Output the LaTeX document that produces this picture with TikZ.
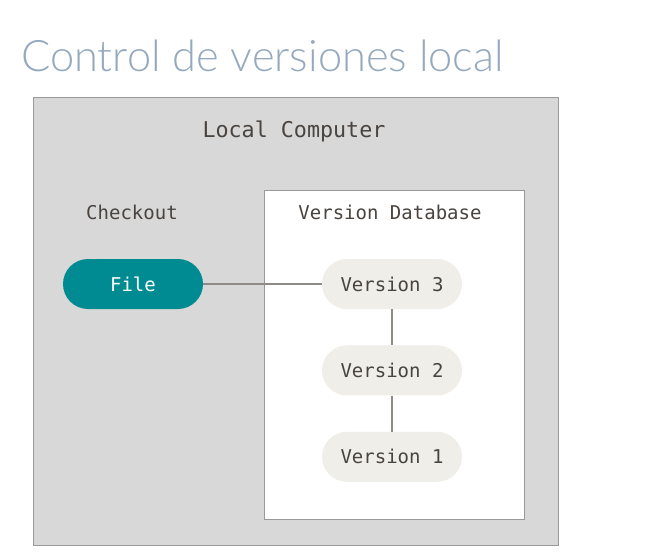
\documentclass[tikz,border=0pt]{standalone}
\usepackage{fontspec}
\setmonofont{DejaVu Sans Mono}
\newfontfamily\titlefont{Lato Light}
\usetikzlibrary{positioning}
\definecolor{boxgray}{HTML}{D8D8D8}
\definecolor{edgegray}{HTML}{999999}
\definecolor{titleblue}{HTML}{94A9BE}
\definecolor{teal}{HTML}{008B93}
\definecolor{verfill}{HTML}{EFEEE8}
\definecolor{txt}{HTML}{4A4440}
\definecolor{linkgray}{HTML}{8E8A86}

\begin{document}
\begin{tikzpicture}[x=1pt,y=-1pt,
  pill/.style={rounded corners=25pt,minimum width=140pt,minimum height=50pt,inner sep=0pt},
  label/.style={font=\ttfamily\fontsize{19}{22}\selectfont,text=txt},
  link/.style={draw=linkgray,line width=1.3pt}]
\useasboundingbox (0,0) rectangle (655,559);
\node[draw=edgegray,fill=boxgray,line width=1pt,minimum width=525pt,minimum height=447pt,inner sep=0pt] (comp) at (295.5,321.5) {};
\node[draw=edgegray,fill=white,line width=1pt,minimum width=260pt,minimum height=329pt,inner sep=0pt] (db) at (394,354.5) {};
\node[anchor=base west,font=\titlefont\fontsize{43.4}{48}\selectfont,text=titleblue,inner sep=0pt] (title) at (21,72) {Control de versiones local};
\node[label,font=\ttfamily\fontsize{21.7}{25}\selectfont] (lc) at (294,131) {Local Computer};
\node[label] (co) at (132,212) {Checkout};
\node[label] (vd) at (390,212) {Version Database};
\node[pill,fill=teal,label,text=white] (F) at (133,284) {File};
\node[pill,fill=verfill,label] (V3) at (392,284) {Version 3};
\node[pill,fill=verfill,label,below=36pt of V3] (V2) {Version 2};
\node[pill,fill=verfill,label,below=36pt of V2] (V1) {Version 1};
\draw[link] (F) -- (V3);
\draw[link] (V3) -- (V2);
\draw[link] (V2) -- (V1);
\end{tikzpicture}
\end{document}
